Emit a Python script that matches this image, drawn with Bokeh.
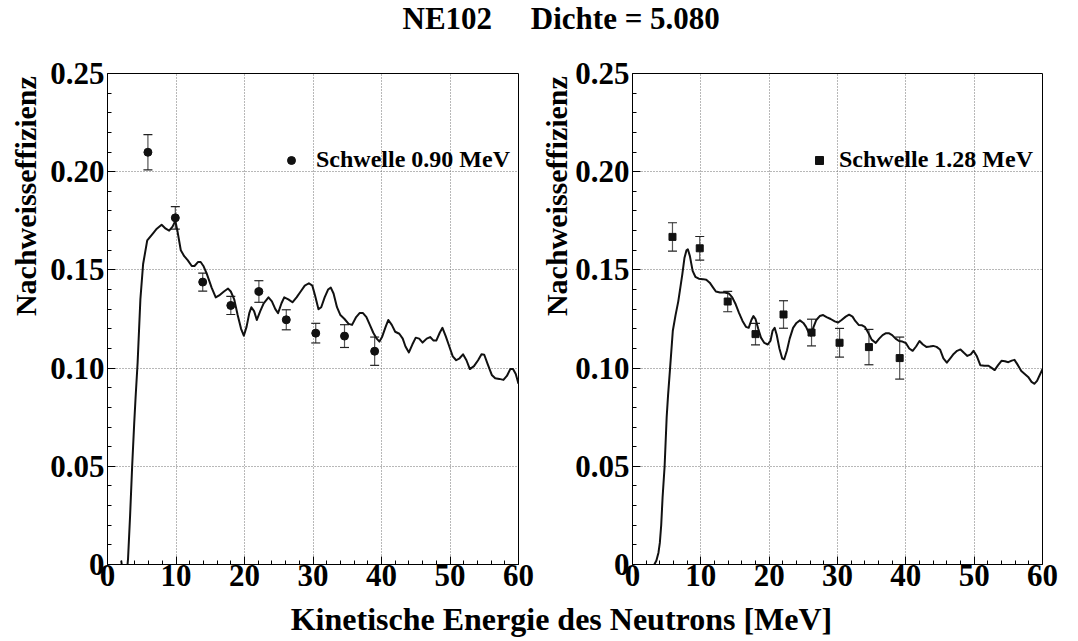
import math
from bokeh.plotting import figure
from bokeh.layouts import column, row
from bokeh.models import (ColumnDataSource, Range1d, FixedTicker, CustomJSTickFormatter,
                          Whisker, TeeHead, Legend, LegendItem, Label)
from bokeh.embed import file_html
from bokeh.resources import INLINE

FONT = "Liberation Serif"

# ---------------- texts ----------------
title_text = "NE102\u00a0\u00a0\u00a0\u00a0\u00a0Dichte = 5.080"
x_title = "Kinetische Energie des Neutrons [MeV]"
y_title = "Nachweisseffizienz"
legend_left = "Schwelle 0.90 MeV"
legend_right = "Schwelle 1.28 MeV"

# ---------------- ticks ----------------
x_ticks = [0, 10, 20, 30, 40, 50, 60]
x_minor = [2, 4, 6, 8, 12, 14, 16, 18, 22, 24, 26, 28, 32, 34, 36, 38,
           42, 44, 46, 48, 52, 54, 56, 58]
y_ticks = [0, 0.05, 0.10, 0.15, 0.20, 0.25]
y_minor = [0.01, 0.02, 0.03, 0.04, 0.06, 0.07, 0.08, 0.09, 0.11, 0.12, 0.13, 0.14,
           0.16, 0.17, 0.18, 0.19, 0.21, 0.22, 0.23, 0.24]

# ---------------- left panel: simulation curve (threshold 0.90 MeV) ----------------
left_curve_e = [2.0, 2.4, 2.8, 3.0, 3.3, 3.6, 3.9, 4.1, 4.4, 4.8, 5.2, 5.8, 6.5, 7.2, 7.9,
                8.5, 9.0, 9.5, 9.9, 10.2, 10.7, 11.2, 11.7, 12.3, 12.7, 13.2, 13.6, 14.0,
                14.5, 15.2, 15.8, 16.3, 17.0, 17.6, 18.0, 18.5, 19.0, 19.5, 19.9, 20.3,
                20.7, 21.0, 21.4, 21.8, 22.3, 22.8, 23.5, 24.0, 24.5, 24.9, 25.4, 25.8,
                26.4, 27.0, 27.6, 28.2, 28.8, 29.4, 29.9, 30.3, 30.8, 31.2, 31.7, 32.2,
                32.6, 33.0, 33.5, 34.0, 34.6, 35.2, 35.7, 36.3, 36.8, 37.3, 37.8, 38.3,
                38.8, 39.3, 39.7, 40.1, 40.6, 41.0, 41.5, 42.0, 42.6, 43.1, 43.5, 44.0,
                44.5, 45.0, 45.5, 46.0, 46.6, 47.1, 47.6, 48.0, 48.5, 48.9, 49.4, 49.9,
                50.4, 50.9, 51.4, 51.9, 52.4, 52.9, 53.5, 54.1, 54.6, 55.0, 55.5, 56.1,
                56.6, 57.2, 57.8, 58.3, 58.8, 59.2, 59.6, 60.0]
left_curve_eff = [0.002, -0.008, -0.005, 0.003, 0.025, 0.050, 0.072, 0.085, 0.103, 0.135,
                  0.153, 0.165, 0.168, 0.171, 0.173, 0.171, 0.170, 0.172, 0.175, 0.170,
                  0.160, 0.157, 0.155, 0.152, 0.152, 0.154, 0.154, 0.152, 0.148, 0.141,
                  0.136, 0.137, 0.139, 0.1405, 0.139, 0.135, 0.127, 0.120, 0.1165, 0.121,
                  0.128, 0.131, 0.129, 0.1245, 0.129, 0.133, 0.136, 0.134, 0.130, 0.128,
                  0.133, 0.136, 0.135, 0.1335, 0.136, 0.139, 0.142, 0.1432, 0.142, 0.137,
                  0.130, 0.131, 0.136, 0.140, 0.141, 0.138, 0.131, 0.127, 0.125, 0.1225,
                  0.122, 0.126, 0.128, 0.128, 0.126, 0.122, 0.118, 0.115, 0.1135, 0.116,
                  0.121, 0.1245, 0.122, 0.1185, 0.1175, 0.115, 0.111, 0.108, 0.112, 0.1155,
                  0.115, 0.113, 0.115, 0.1158, 0.114, 0.114, 0.118, 0.1205, 0.116, 0.111,
                  0.106, 0.104, 0.105, 0.107, 0.104, 0.0995, 0.101, 0.104, 0.107, 0.1068,
                  0.102, 0.0965, 0.0948, 0.0945, 0.094, 0.096, 0.0995, 0.0995, 0.097, 0.092]

# measured points (threshold 0.90 MeV)
left_pts_e = [5.9, 9.9, 13.9, 18.0, 22.1, 26.1, 30.4, 34.6, 39.0]
left_pts_eff = [0.2099, 0.1765, 0.1438, 0.1319, 0.1390, 0.1246, 0.1178, 0.1163, 0.1086]
left_pts_err = [0.0090, 0.0057, 0.0046, 0.0046, 0.0055, 0.0051, 0.0050, 0.0058, 0.0072]

# ---------------- right panel: simulation curve (threshold 1.28 MeV) ----------------
right_curve_e = [2.0, 2.4, 2.8, 3.2, 3.5, 3.8, 4.0, 4.2, 4.4, 4.7, 5.0, 5.2, 5.5, 5.9, 6.3,
                 6.7, 7.0, 7.3, 7.6, 7.9, 8.1, 8.4, 8.8, 9.2, 9.7, 10.3, 10.8, 11.3, 11.8,
                 12.2, 12.8, 13.5, 14.1, 14.6, 15.1, 15.6, 16.1, 16.6, 17.0, 17.4, 17.7,
                 18.0, 18.4, 18.8, 19.3, 19.8, 20.2, 20.5, 20.8, 21.1, 21.5, 21.9, 22.2,
                 22.6, 23.0, 23.5, 24.0, 24.5, 25.0, 25.4, 25.8, 26.1, 26.5, 26.9, 27.4,
                 27.9, 28.4, 29.0, 29.6, 30.1, 30.6, 31.2, 31.7, 32.2, 32.6, 33.1, 33.6,
                 34.0, 34.5, 35.0, 35.6, 36.1, 36.6, 37.1, 37.5, 38.0, 38.5, 39.0, 39.5,
                 40.0, 40.5, 41.0, 41.5, 42.0, 42.5, 43.0, 43.5, 44.0, 44.5, 45.0, 45.5,
                 46.0, 46.5, 47.0, 47.5, 48.0, 48.5, 49.0, 49.5, 49.9, 50.4, 50.9, 51.5,
                 52.1, 52.6, 53.0, 53.5, 54.0, 54.5, 55.0, 55.5, 55.9, 56.4, 56.9, 57.4,
                 57.9, 58.4, 58.8, 59.2, 59.6, 60.0]
right_curve_eff = [0.000, -0.001, -0.001, 0.000, 0.002, 0.006, 0.011, 0.020, 0.034, 0.050,
                   0.075, 0.086, 0.100, 0.119, 0.127, 0.134, 0.141, 0.148, 0.156, 0.160,
                   0.1605, 0.157, 0.1495, 0.1465, 0.1455, 0.1453, 0.145, 0.1435, 0.141,
                   0.139, 0.1385, 0.1385, 0.138, 0.136, 0.1325, 0.128, 0.124, 0.121,
                   0.1205, 0.1245, 0.1265, 0.125, 0.120, 0.1155, 0.1128, 0.112, 0.114,
                   0.119, 0.1205, 0.117, 0.110, 0.105, 0.1045, 0.109, 0.115, 0.1205,
                   0.123, 0.1243, 0.123, 0.121, 0.118, 0.1165, 0.121, 0.1245, 0.1265,
                   0.127, 0.126, 0.125, 0.1238, 0.1232, 0.1245, 0.1262, 0.1272, 0.1262,
                   0.124, 0.122, 0.1218, 0.121, 0.118, 0.1145, 0.1128, 0.115, 0.1168,
                   0.1178, 0.1178, 0.1168, 0.115, 0.1138, 0.1135, 0.1128, 0.110, 0.1088,
                   0.111, 0.1138, 0.112, 0.1108, 0.111, 0.1113, 0.1108, 0.1095, 0.105,
                   0.1028, 0.105, 0.1072, 0.1088, 0.1095, 0.1078, 0.1062, 0.107, 0.1088,
                   0.106, 0.1015, 0.1012, 0.1012, 0.100, 0.099, 0.1015, 0.1037, 0.1035,
                   0.103, 0.1038, 0.1042, 0.1015, 0.0985, 0.097, 0.0955, 0.093, 0.092,
                   0.0935, 0.0965, 0.0995]

# measured points (threshold 1.28 MeV)
right_pts_e = [5.85, 9.84, 13.93, 18.0, 22.1, 26.2, 30.3, 34.6, 39.1]
right_pts_eff = [0.1668, 0.1610, 0.1339, 0.1173, 0.1273, 0.1181, 0.1129, 0.1107, 0.1051]
right_pts_err = [0.0072, 0.0060, 0.0052, 0.0055, 0.0070, 0.0068, 0.0073, 0.0090, 0.0107]

PANEL_H = 555   # 29 top border + 491 frame + 35 bottom border


def style_axes(p):
    for ax in (p.xaxis, p.yaxis):
        ax.axis_line_color = "black"
        ax.axis_line_width = 1
        ax.major_tick_in = 8
        ax.major_tick_out = 0
        ax.minor_tick_in = 4
        ax.minor_tick_out = 0
        ax.major_tick_line_color = "black"
        ax.minor_tick_line_color = "black"
        ax.major_label_text_font = FONT
        ax.major_label_text_font_style = "bold"
        ax.major_label_text_font_size = "31px"
        ax.major_label_text_color = "black"
    p.xaxis.ticker = FixedTicker(ticks=x_ticks, minor_ticks=x_minor)
    p.yaxis.ticker = FixedTicker(ticks=y_ticks, minor_ticks=y_minor)
    p.yaxis.formatter = CustomJSTickFormatter(code="return tick == 0 ? '0' : tick.toFixed(2);")
    p.xaxis.major_label_standoff = 0
    p.yaxis.major_label_standoff = 3
    for g in (p.xgrid, p.ygrid):
        g.grid_line_color = "#707070"
        g.grid_line_dash = "1 2"
        g.grid_line_width = 1


def make_panel(width, curve_e, curve_eff, pts_e, pts_eff, pts_err, marker, msize, legend_text,
               border_left, border_right, legend_x, legend_standoff):
    p = figure(width=width, height=PANEL_H, x_range=Range1d(0, 60), y_range=Range1d(0, 0.25),
               output_backend="svg", toolbar_location=None, title=None,
               min_border_left=border_left, min_border_right=border_right,
               min_border_top=29, min_border_bottom=35)
    p.background_fill_color = "white"
    p.border_fill_color = "white"
    p.outline_line_color = "black"
    p.outline_line_width = 1
    style_axes(p)

    p.line(curve_e, curve_eff, line_color="#111111", line_width=2, line_join="round")

    lo = [v - e for v, e in zip(pts_eff, pts_err)]
    hi = [v + e for v, e in zip(pts_eff, pts_err)]
    src = ColumnDataSource(dict(x=pts_e, y=pts_eff, lo=lo, hi=hi))
    wh = Whisker(source=src, base="x", lower="lo", upper="hi", line_color="#555555",
                 line_width=1.2,
                 upper_head=TeeHead(size=9, line_color="#222222", line_width=1.2),
                 lower_head=TeeHead(size=9, line_color="#222222", line_width=1.2))
    p.add_layout(wh)
    r = p.scatter("x", "y", source=src, marker=marker, size=msize,
                  fill_color="#111111", line_color="#111111")

    leg = Legend(items=[LegendItem(label=legend_text, renderers=[r])],
                 location=(legend_x, 391), padding=0, margin=0, spacing=0,
                 glyph_width=20, glyph_height=26, label_height=26,
                 label_standoff=legend_standoff,
                 label_text_font=FONT, label_text_font_style="bold",
                 label_text_font_size="24px", label_text_color="black",
                 border_line_alpha=0, background_fill_alpha=0)
    p.add_layout(leg)
    return p


def text_box(width, height, text, x, y, align, size, angle=0.0):
    """A plain figure whose frame fills the whole canvas, used to hold one text."""
    f = figure(width=width, height=height, x_range=Range1d(0, width), y_range=Range1d(0, height),
               output_backend="svg", toolbar_location=None, title=None,
               x_axis_type=None, y_axis_type=None, min_border=0)
    f.outline_line_color = None
    f.background_fill_color = "white"
    f.border_fill_color = "white"
    f.add_layout(Label(x=x, y=y, text=text, text_align=align, text_baseline="middle",
                       angle=angle, text_font=FONT, text_font_style="bold",
                       text_font_size=size, text_color="black"))
    return f


# left y title strip (0..45), left panel (45..539), right y title strip (539..572), right panel (572..1078)
ylab1 = text_box(45, PANEL_H, y_title, 25, PANEL_H - 3, "right", "30px", math.pi / 2)
p1 = make_panel(494, left_curve_e, left_curve_eff, left_pts_e, left_pts_eff, left_pts_err,
                "circle", 8, legend_left, 62, 21, 174, 15)
ylab2 = text_box(33, PANEL_H, y_title, 16.5, PANEL_H - 3, "right", "30px", math.pi / 2)
p2 = make_panel(506, right_curve_e, right_curve_eff, right_pts_e, right_pts_eff, right_pts_err,
                "square", 7, legend_right, 59, 36, 177, 10)

top = text_box(1078, 44, title_text, 402, 26.5, "left", "31px")
bottom = text_box(1078, 42, x_title, 561, 23, "center", "32px")

layout = column(top, row(ylab1, p1, ylab2, p2), bottom)

open("out.html", "w").write(file_html(layout, INLINE))
